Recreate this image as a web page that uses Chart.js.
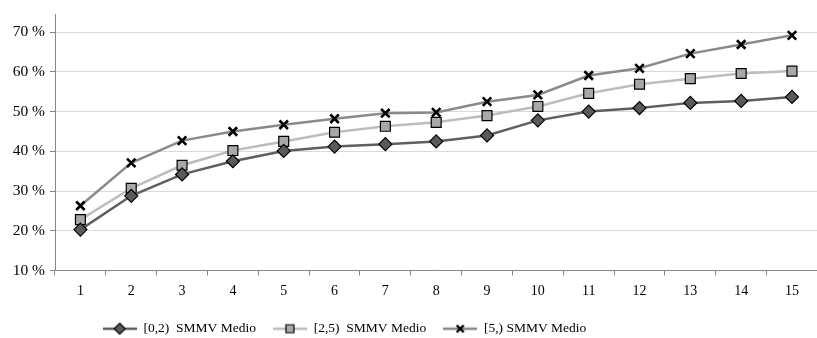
<!DOCTYPE html>
<html>
<head>
<meta charset="utf-8">
<script src="https://cdn.jsdelivr.net/npm/chart.js@4/dist/chart.umd.min.js"></script>
<style>
html,body{margin:0;padding:0;background:#fff;overflow:hidden;}
#wrap{width:826px;height:338px;}
</style>
</head>
<body>
<div id="wrap"><canvas id="c" width="826" height="338"></canvas></div>
<script>
const categories = ['1','2','3','4','5','6','7','8','9','10','11','12','13','14','15'];
const seriesNames = ['[0,2)  SMMV Medio', '[2,5)  SMMV Medio', '[5,) SMMV Medio'];
const series02 = [20.3, 28.8, 34.2, 37.5, 40.1, 41.2, 41.8, 42.5, 44.0, 47.8, 50.0, 50.9, 52.2, 52.7, 53.7];
const series25 = [22.8, 30.7, 36.5, 40.2, 42.5, 44.8, 46.3, 47.3, 49.0, 51.3, 54.6, 56.9, 58.3, 59.6, 60.2];
const series5  = [26.3, 37.1, 42.7, 45.0, 46.7, 48.2, 49.6, 49.8, 52.5, 54.2, 59.1, 60.9, 64.6, 66.9, 69.2];
const yTicks = [10, 20, 30, 40, 50, 60, 70];

const FONT = 'Liberation Serif';

function legendIcon(lineColor, style, fill) {
  const cv = document.createElement('canvas');
  cv.width = 34; cv.height = 14;
  const g = cv.getContext('2d');
  g.strokeStyle = lineColor; g.lineWidth = 2.5;
  g.beginPath(); g.moveTo(0, 7); g.lineTo(34, 7); g.stroke();
  g.lineWidth = 1.2; g.strokeStyle = '#000'; g.fillStyle = fill;
  if (style === 'diamond') {
    g.beginPath(); g.moveTo(17, 1.5); g.lineTo(22.5, 7); g.lineTo(17, 12.5); g.lineTo(11.5, 7); g.closePath(); g.fill(); g.stroke();
  } else if (style === 'square') {
    g.beginPath(); g.rect(13, 3, 8, 8); g.fill(); g.stroke();
  } else {
    g.lineWidth = 2.4;
    g.beginPath(); g.moveTo(13.5, 3.5); g.lineTo(20.5, 10.5); g.moveTo(20.5, 3.5); g.lineTo(13.5, 10.5); g.stroke();
  }
  return cv;
}
const icons = [
  legendIcon('#5f5f5f', 'diamond', '#5a5a5a'),
  legendIcon('#bdbdbd', 'square', '#a8a8a8'),
  legendIcon('#8a8a8a', 'cross', '#000')
];

const legendShift = {
  id: 'legendShift',
  afterLayout(chart) {
    const L = chart.legend;
    if (!L) return;
    const dx = -67, top = 305;
    const h = L.bottom - L.top;
    L.left += dx; L.right += dx;
    L.top = top; L.bottom = top + h;
  }
};

new Chart(document.getElementById('c'), {
  type: 'line',
  data: {
    labels: categories,
    datasets: [
      { label: seriesNames[0], data: series02, borderColor: '#5f5f5f', borderWidth: 2.5,
        pointStyle: 'rectRot', pointRadius: 6.5, pointBackgroundColor: '#5a5a5a', pointBorderColor: '#000', pointBorderWidth: 1.2,
        tension: 0 },
      { label: seriesNames[1], data: series25, borderColor: '#bdbdbd', borderWidth: 2.5,
        pointStyle: 'rect', pointRadius: 7, pointBackgroundColor: '#a8a8a8', pointBorderColor: '#000', pointBorderWidth: 1.2,
        tension: 0 },
      { label: seriesNames[2], data: series5, borderColor: '#8a8a8a', borderWidth: 2.5,
        pointStyle: 'crossRot', pointRadius: 6, pointBackgroundColor: '#000', pointBorderColor: '#000', pointBorderWidth: 2.6,
        tension: 0 }
    ]
  },
  options: {
    responsive: false,
    animation: false,
    devicePixelRatio: 1,
    layout: { padding: { left: 0, top: 13, right: 3, bottom: 0 } },
    plugins: {
      tooltip: { enabled: false },
      legend: {
        position: 'bottom',
        labels: {
          font: { family: FONT, size: 13.5 },
          color: '#000',
          usePointStyle: true,
          pointStyleWidth: 34,
          boxHeight: 14,
          padding: 17,
          generateLabels(chart) {
            return chart.data.datasets.map((ds, i) => ({
              text: ds.label, pointStyle: icons[i], datasetIndex: i,
              fillStyle: ds.borderColor, strokeStyle: ds.borderColor, lineWidth: 0, hidden: false, fontColor: '#000'
            }));
          }
        }
      }
    },
    scales: {
      x: {
        offset: true,
        grid: { display: true, drawOnChartArea: false, offset: true, tickLength: 5, color: '#868686', lineWidth: 1 },
        border: { color: '#868686', width: 1 },
        ticks: { font: { family: FONT, size: 14 }, color: '#000', padding: 7, maxRotation: 0, autoSkip: false },
        afterFit(s) { s.height = 27; }
      },
      y: {
        min: 10, max: 74.5,
        afterBuildTicks(s) { s.ticks = yTicks.map(v => ({ value: v })); },
        grid: { color: '#d9d9d9', lineWidth: 1, tickLength: 5, tickColor: '#868686', drawTicks: true },
        border: { color: '#868686', width: 1 },
        ticks: { font: { family: FONT, size: 15.5 }, color: '#000', padding: 5,
          callback: v => v + ' %' },
        afterFit(s) { s.width = 55; }
      }
    }
  },
  plugins: [legendShift]
});
</script>
</body>
</html>
